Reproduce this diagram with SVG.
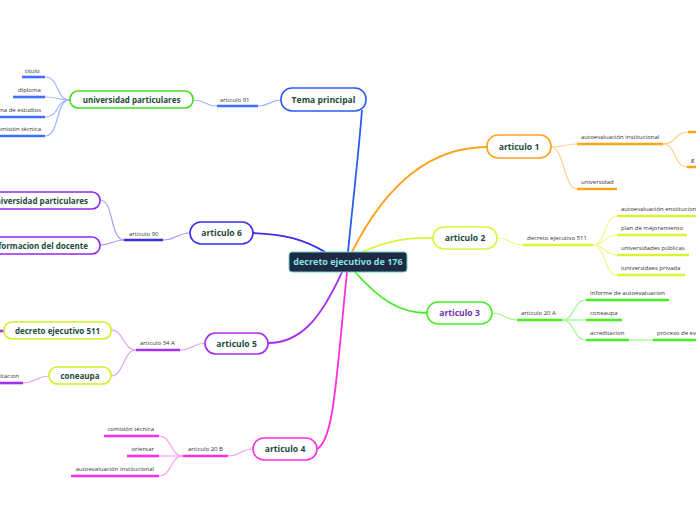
<svg xmlns="http://www.w3.org/2000/svg" width="696" height="520" viewBox="0 0 696 520">
<style>
.node{fill:#fff;stroke-width:1.6}
.nt{font-family:"Open Sans","DejaVu Sans",sans-serif;font-weight:bold;font-size:8.6px;fill:#1d4b3b;text-anchor:middle}
.nts{font-family:"Open Sans","DejaVu Sans",sans-serif;font-weight:bold;font-size:8px;fill:#1d4b3b}
.st{font-family:"Open Sans","DejaVu Sans",sans-serif;font-size:6px;fill:#333}
.c{fill:none;stroke-width:1.2}
.m{fill:none;stroke-width:1.8}
.u{fill:none;stroke-width:2.6}
</style>
<rect width="696" height="520" fill="#fff"/>
<g id="connectors">
<path class="m" stroke="#2a5cf2" d="M362 110 C358 160 352 210 348 252"/>
<path class="m" stroke="#ffa31a" d="M352 252 C378 200 420 147 487 147"/>
<path class="m" stroke="#dcf23a" d="M362 252 C390 240 410 237 433 238"/>
<path class="m" stroke="#44ee22" d="M355 272 C380 300 400 313 427 313"/>
<path class="m" stroke="#ff2ee0" d="M347 272 C336 380 334 440 317 449"/>
<path class="m" stroke="#a62ef0" d="M342 272 C320 320 300 343 268 343"/>
<path class="m" stroke="#3a2ee8" d="M253 233 C285 234 305 240 325 252"/>
<path class="c" stroke="#a0b4ff" d="M258 106 C270 106 270 100 281 100"/>
<path class="u" stroke="#3f70ff" d="M217 106 H258"/>
<path class="c" stroke="#a0b4ff" d="M193 100 C205 100 205 106 217 106"/>
<path class="c" stroke="#a0b4ff" d="M45 77 C60 77 55 100 70 100"/>
<path class="c" stroke="#a0b4ff" d="M45 97 C60 97 55 100 70 100"/>
<path class="c" stroke="#a0b4ff" d="M45 117 C60 117 55 100 70 100"/>
<path class="c" stroke="#a0b4ff" d="M45 136 C60 136 55 100 70 100"/>
<path class="u" stroke="#3f70ff" d="M22 77 H45"/>
<path class="u" stroke="#3f70ff" d="M13 97 H45"/>
<path class="u" stroke="#3f70ff" d="M0 117 H45"/>
<path class="u" stroke="#3f70ff" d="M0 136 H45"/>
<path class="c" stroke="#ffd08a" d="M551 147 C564 147 564 144 577 144"/>
<path class="c" stroke="#ffd08a" d="M551 147 C564 147 564 189 577 189"/>
<path class="u" stroke="#ffa31a" d="M577 144 H663"/>
<path class="u" stroke="#ffa31a" d="M577 189 H617"/>
<path class="c" stroke="#ffd08a" d="M663 144 C676 144 675 132 688 132"/>
<path class="c" stroke="#ffd08a" d="M663 144 C676 144 674 167 687 167"/>
<path class="u" stroke="#ffa31a" d="M688 132 H696"/>
<path class="u" stroke="#ffa31a" d="M687 167 H696"/>
<path class="c" stroke="#eef78a" d="M497 238 C510 238 510 245 523 245"/>
<path class="u" stroke="#dcf23a" d="M523 245 H593"/>
<path class="c" stroke="#eef78a" d="M593 245 C606 245 604 216 617 216"/>
<path class="c" stroke="#eef78a" d="M593 245 C606 245 604 235 617 235"/>
<path class="c" stroke="#eef78a" d="M593 245 C606 245 604 255 617 255"/>
<path class="c" stroke="#eef78a" d="M593 245 C606 245 604 275 617 275"/>
<path class="u" stroke="#dcf23a" d="M617 216 H696"/>
<path class="u" stroke="#dcf23a" d="M617 235 H687"/>
<path class="u" stroke="#dcf23a" d="M617 255 H689"/>
<path class="u" stroke="#dcf23a" d="M617 275 H685"/>
<path class="c" stroke="#a0f590" d="M492 313 C505 313 504 320 517 320"/>
<path class="u" stroke="#44ee22" d="M517 320 H562"/>
<path class="c" stroke="#a0f590" d="M562 320 C575 320 573 300 586 300"/>
<path class="c" stroke="#a0f590" d="M562 320 H586"/>
<path class="c" stroke="#a0f590" d="M562 320 C575 320 573 340 586 340"/>
<path class="u" stroke="#44ee22" d="M586 300 H669"/>
<path class="u" stroke="#44ee22" d="M586 320 H622"/>
<path class="u" stroke="#44ee22" d="M586 340 H629"/>
<path class="c" stroke="#a0f590" d="M629 340 H653"/>
<path class="u" stroke="#44ee22" d="M653 340 H696"/>
<path class="c" stroke="#a69cf2" d="M163 240 C176 240 177 233 190 233"/>
<path class="u" stroke="#3a2ee8" d="M124 240 H163"/>
<path class="c" stroke="#a69cf2" d="M124 240 C110 240 114 200 100 200"/>
<path class="c" stroke="#a69cf2" d="M124 240 C112 240 112 245 100 245"/>
<path class="c" stroke="#d9a0f7" d="M180 350 C193 350 193 343 206 343"/>
<path class="u" stroke="#a62ef0" d="M136 350 H180"/>
<path class="c" stroke="#d9a0f7" d="M136 350 C123 350 124 330 111 330"/>
<path class="c" stroke="#d9a0f7" d="M136 350 C123 350 124 376 111 376"/>
<path class="c" stroke="#d9a0f7" d="M49 376 C36 376 36 383 23 383"/>
<path class="u" stroke="#a62ef0" d="M0 383 H23"/>
<path class="u" stroke="#a62ef0" d="M0 331 H4"/>
<path class="c" stroke="#ff9cef" d="M228 456 C241 456 240 449 253 449"/>
<path class="u" stroke="#ff2ee0" d="M183 456 H228"/>
<path class="c" stroke="#ff9cef" d="M183 456 C170 456 172 436 159 436"/>
<path class="c" stroke="#ff9cef" d="M183 456 H159"/>
<path class="c" stroke="#ff9cef" d="M183 456 C170 456 172 476 159 476"/>
<path class="u" stroke="#ff2ee0" d="M104 436 H159"/>
<path class="u" stroke="#ff2ee0" d="M127 456 H159"/>
<path class="u" stroke="#ff2ee0" d="M71 476 H159"/>
</g>
<g id="center">
<rect x="289" y="252" width="118" height="20" rx="3" fill="#1f2944" stroke="#5fd6c9" stroke-width="1"/>
<text x="348" y="265" style="font-family:'Open Sans','DejaVu Sans',sans-serif;font-weight:bold;font-size:9px;fill:#84e6df;text-anchor:middle">decreto ejecutivo de 176</text>
</g>
<g id="tema-principal">
<rect class="node" x="281" y="88" width="85" height="23" rx="11" stroke="#2a5cf2"/>
<text class="nt" x="323.5" y="102.5">Tema principal</text>
</g>
<g id="articulo-91"><text class="st" x="220" y="102">articulo 91</text></g>
<g id="universidad-particulares-1">
<rect class="node" x="70" y="91" width="123" height="17" rx="8" stroke="#44dd22"/>
<text class="nt" x="131.5" y="102.5" style="font-size:8px">universidad particulares</text>
</g>
<g id="titulo"><text class="st" x="25" y="73">titulo</text></g>
<g id="diploma"><text class="st" x="18" y="92">diploma</text></g>
<g id="estudios"><text class="st" x="41" y="112" text-anchor="end">programa  de estudios</text></g>
<g id="comision-1"><text class="st" x="41" y="131" text-anchor="end">comisión técnica</text></g>
<g id="articulo-1">
<rect class="node" x="487" y="135" width="64" height="23" rx="11" stroke="#ffa31a"/>
<text class="nt" x="519" y="149.5">articulo 1</text>
</g>
<g id="autoeval-1"><text class="st" x="581" y="139">autoevaluación institucional</text></g>
<g id="universidad"><text class="st" x="581" y="184">universidad</text></g>
<g id="g-node"><text class="st" x="691" y="162">g</text></g>
<g id="articulo-2">
<rect class="node" x="433" y="227" width="64" height="22" rx="11" stroke="#dcf23a"/>
<text class="nt" x="465" y="241">articulo 2</text>
</g>
<g id="decreto-511-a"><text class="st" x="527" y="240">decreto ejecutivo 511</text></g>
<g id="autoeval-2"><text class="st" x="621" y="211">autoevaluación enstitucional</text></g>
<g id="plan"><text class="st" x="621" y="230">plan de mejoramiento</text></g>
<g id="publicas"><text class="st" x="621" y="250">universidades públicas</text></g>
<g id="privada"><text class="st" x="621" y="270">iuniversidaes privada</text></g>
<g id="articulo-3">
<rect class="node" x="427" y="302" width="65" height="22" rx="11" stroke="#44ee22"/>
<text class="nt" x="459.5" y="316" style="fill:#7030a8">articulo 3</text>
</g>
<g id="articulo-20a"><text class="st" x="521" y="315">articulo 20 A</text></g>
<g id="informe"><text class="st" x="590" y="295">informe de autoevaluacion</text></g>
<g id="coneaupa-1"><text class="st" x="590" y="315">coneaupa</text></g>
<g id="acreditacion-1"><text class="st" x="590" y="335">acreditacion</text></g>
<g id="proceso"><text class="st" x="657" y="335">proceso de evaluacion</text></g>
<g id="articulo-6">
<rect class="node" x="190" y="222" width="63" height="22" rx="11" stroke="#3a2ee8"/>
<text class="nt" x="221.5" y="236">articulo 6</text>
</g>
<g id="articulo-90"><text class="st" x="129" y="236">articulo 90</text></g>
<g id="universidad-particulares-2">
<rect class="node" x="-30" y="192" width="130" height="17" rx="8" stroke="#9426ee"/>
<text class="nts" x="88" y="203.5" text-anchor="end">universidad particulares</text>
</g>
<g id="formacion">
<rect class="node" x="-30" y="237" width="130" height="17" rx="8" stroke="#9426ee"/>
<text class="nts" x="88" y="248.5" text-anchor="end">informacion del docente</text>
</g>
<g id="articulo-5">
<rect class="node" x="205" y="333" width="63" height="21" rx="10.5" stroke="#a62ef0"/>
<text class="nt" x="236.5" y="346.5">articulo 5</text>
</g>
<g id="articulo-34a"><text class="st" x="140" y="345">articulo 34 A</text></g>
<g id="decreto-511-b">
<rect class="node" x="4" y="322" width="107" height="17" rx="8" stroke="#d4ee22"/>
<text class="nt" x="57.5" y="333.5" style="font-size:8px">decreto ejecutivo 511</text>
</g>
<g id="coneaupa-2">
<rect class="node" x="49" y="367" width="62" height="17" rx="8" stroke="#d4ee22"/>
<text class="nt" x="80" y="378.5" style="font-size:8px">coneaupa</text>
</g>
<g id="acreditacion-2"><text class="st" x="19" y="378" text-anchor="end">acreditacion</text></g>
<g id="articulo-4">
<rect class="node" x="253" y="438" width="64" height="22" rx="11" stroke="#ff2ee0"/>
<text class="nt" x="285" y="452">articulo 4</text>
</g>
<g id="articulo-20b"><text class="st" x="188" y="451">articulo 20 B</text></g>
<g id="comision-2"><text class="st" x="154" y="431" text-anchor="end">comisión técnica</text></g>
<g id="orientar"><text class="st" x="154" y="451" text-anchor="end">orientar</text></g>
<g id="autoeval-4"><text class="st" x="154" y="471" text-anchor="end">autoevaluación  institucional</text></g>
</svg>
